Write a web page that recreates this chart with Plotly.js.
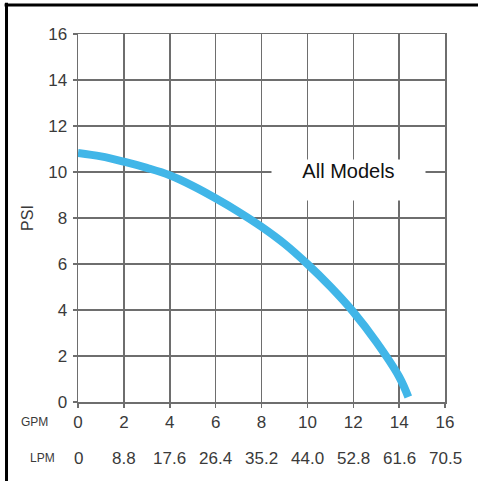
<!DOCTYPE html>
<html>
<head>
<meta charset="utf-8">
<script src="https://cdn.plot.ly/plotly-3.0.1.min.js"></script>
<style>html,body{margin:0;padding:0;background:#fff;}#chart{width:478px;height:481px;}</style>
</head>
<body>
<div id="chart"></div>
<script>
// Data
var gpm = [0, 1, 2, 3, 4, 5, 6, 7, 8, 9, 10, 11, 12, 13, 14, 14.4];
var psi = [10.83, 10.68, 10.45, 10.18, 9.86, 9.4, 8.86, 8.27, 7.62, 6.88, 6.0, 5.02, 3.92, 2.62, 1.1, 0.22];
var gpmTicks = [0, 2, 4, 6, 8, 10, 12, 14, 16];
var lpmLabels = ['0', '8.8', '17.6', '26.4', '35.2', '44.0', '52.8', '61.6', '70.5'];
var psiTicks = [0, 2, 4, 6, 8, 10, 12, 14, 16];
var seriesLabel = 'All Models';

var gridColor = '#6e6e6e';
var textColor = '#3a3a3a';
var fontFam = '"Liberation Sans", Arial, Helvetica, sans-serif';
var narrowFam = '"Liberation Sans Narrow", "Liberation Sans", Arial, sans-serif';

var trace = {
  x: gpm, y: psi, mode: 'lines', type: 'scatter',
  line: {color: '#41b6e8', width: 8, shape: 'spline', smoothing: 1},
  hoverinfo: 'skip', showlegend: false
};

var annotations = [];
for (var i = 0; i < gpmTicks.length; i++) {
  annotations.push({
    x: gpmTicks[i], xref: 'x', y: 0, yref: 'paper', yshift: -56,
    text: lpmLabels[i], showarrow: false, xanchor: 'center', yanchor: 'middle',
    font: {family: fontFam, size: 17, color: textColor}
  });
}
annotations.push({
  x: -0.076, xref: 'paper', y: 0, yref: 'paper', yshift: -20,
  text: 'GPM', showarrow: false, xanchor: 'right', yanchor: 'middle',
  font: {family: narrowFam, size: 12, color: textColor}
});
annotations.push({
  x: -0.057, xref: 'paper', y: 0, yref: 'paper', yshift: -56,
  text: 'LPM', showarrow: false, xanchor: 'right', yanchor: 'middle',
  font: {family: narrowFam, size: 12, color: textColor}
});
annotations.push({
  x: 11.79, xref: 'x', y: 9.64, yref: 'y',
  text: seriesLabel, showarrow: false, xanchor: 'center', yanchor: 'middle',
  width: 153, height: 40, valign: 'top', borderpad: 0,
  bgcolor: '#ffffff',
  font: {family: fontFam, size: 20, color: '#111111'}
});

var layout = {
  width: 478, height: 481,
  margin: {l: 78, r: 33, t: 34, b: 79, pad: 0},
  paper_bgcolor: '#ffffff', plot_bgcolor: '#ffffff',
  font: {family: fontFam, color: textColor},
  xaxis: {
    range: [0, 16], tickvals: gpmTicks, ticktext: gpmTicks.map(String),
    showgrid: true, gridcolor: gridColor, gridwidth: 1.5,
    showline: true, mirror: true, linecolor: gridColor, linewidth: 1.5,
    ticks: 'outside', ticklen: 4, tickcolor: gridColor, tickwidth: 1.5,
    zeroline: false, fixedrange: true,
    tickfont: {family: fontFam, size: 17, color: textColor}
  },
  yaxis: {
    range: [0, 16], tickvals: psiTicks,
    showgrid: true, gridcolor: gridColor, gridwidth: 1.5,
    showline: true, mirror: true, linecolor: gridColor, linewidth: 1.5,
    ticks: 'outside', ticklen: 4, tickcolor: gridColor, tickwidth: 1.5,
    zeroline: false, fixedrange: true, ticklabelstandoff: 2,
    tickfont: {family: fontFam, size: 17, color: textColor},
    title: {text: 'PSI', font: {family: fontFam, size: 16, color: textColor}, standoff: 10}
  },
  shapes: [
    {type: 'line', xref: 'paper', yref: 'paper', x0: -0.2, x1: 1.1, y0: 1.0788, y1: 1.0788,
     line: {color: '#000000', width: 3}},
    {type: 'line', xref: 'paper', yref: 'paper', x0: -0.1948, x1: -0.1948, y0: 1.085, y1: -0.22,
     line: {color: '#000000', width: 3}}
  ],
  annotations: annotations
};

Plotly.newPlot('chart', [trace], layout, {displayModeBar: false, staticPlot: true});
</script>
</body>
</html>
